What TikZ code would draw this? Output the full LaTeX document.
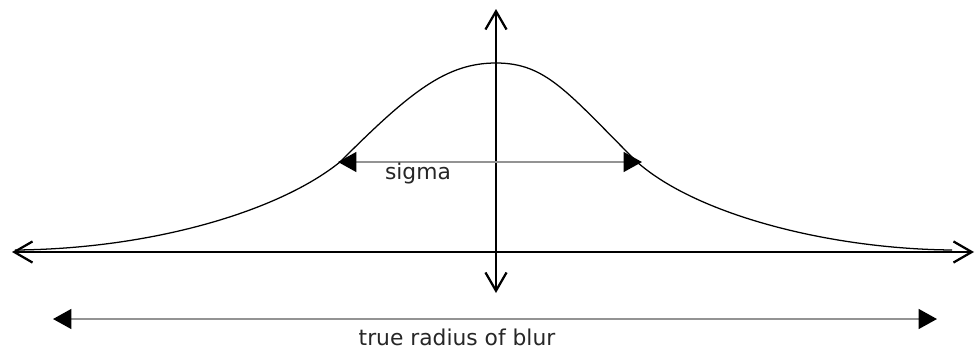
\documentclass[tikz,border=0pt]{standalone}
\usepackage{fontspec}
\setmainfont{DejaVu Sans}
\usetikzlibrary{arrows.meta}

\begin{document}
\begin{tikzpicture}[
    x=0.025cm, y=-0.025cm,
    % Define styles
    axis/.style={{Straight Barb[length=13pt, width=15pt, line width=1.6pt]}-{Straight Barb[length=13pt, width=15pt, line width=1.6pt]}, line width=2.1pt, draw=black},
    measure/.style={{Triangle[length=13pt, width=14pt, color=black]}-{Triangle[length=13pt, width=14pt, color=black]}, line width=1.5pt, draw=gray!85},
    curve/.style={line width=0.9pt, draw=black},
    label/.style={font=\fontsize{15.5}{18}\selectfont, text=black!85, inner sep=0pt}
    ]

    % Frame of the picture
    \useasboundingbox (0,0) rectangle (976,349);

    % Axis end points
    \coordinate (left) at (12,252);
    \coordinate (right) at (974,252);
    \coordinate (top) at (496,9);
    \coordinate (bottom) at (496,293);

    % Sigma and radius end points
    \coordinate (sigmaL) at (338,162);
    \coordinate (sigmaR) at (642,162);
    \coordinate (radiusL) at (53,319);
    \coordinate (radiusR) at (937,319);

    % Bell curve
    \draw[curve] (15,250) .. controls (150,249) and (278,212) .. (340,162)
        .. controls (410,92) and (446,63) .. (496,63)
        .. controls (546,63) and (567,92) .. (637,162)
        .. controls (697,215) and (830,249) .. (952,250);

    % Axes
    \draw[axis] (left) -- (right);
    \draw[axis] (top) -- (bottom);

    % Width markers
    \draw[measure] (sigmaL) -- (sigmaR);
    \draw[measure] (radiusL) -- (radiusR);

    % Labels
    \node[label, anchor=base] (sigma) at (418,179) {sigma};
    \node[label, anchor=base] (radius) at (457,345) {true radius of blur};

\end{tikzpicture}
\end{document}
